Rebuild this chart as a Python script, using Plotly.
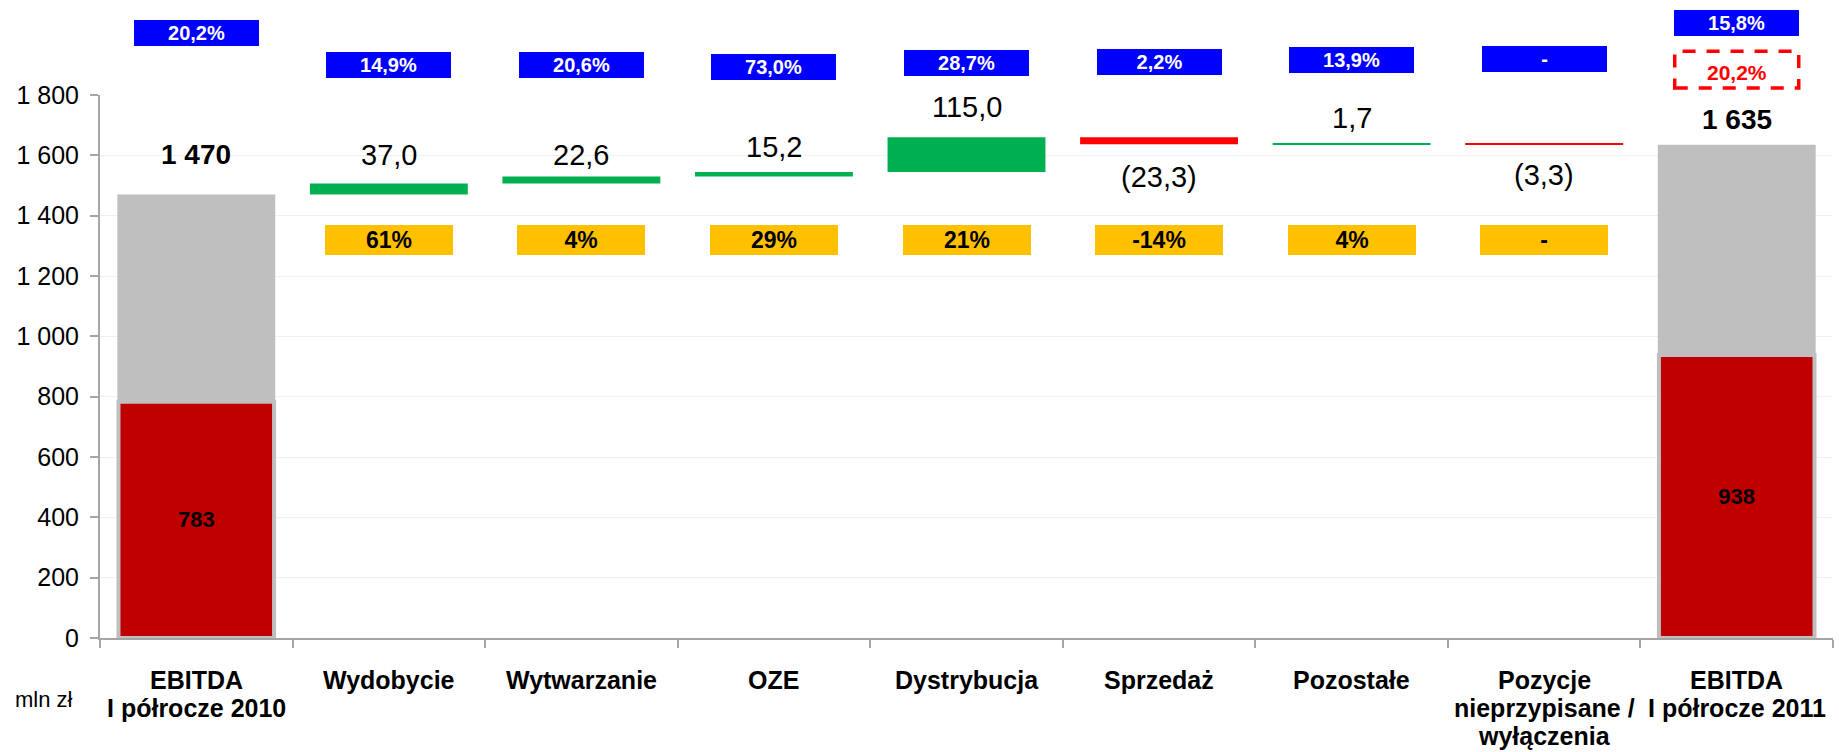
import plotly.graph_objects as go

# ---------------- data ----------------
categories = [
    "EBITDA<br>I półrocze 2010",
    "Wydobycie",
    "Wytwarzanie",
    "OZE",
    "Dystrybucja",
    "Sprzedaż",
    "Pozostałe",
    "Pozycje<br>nieprzypisane /<br>wyłączenia",
    "EBITDA<br>I półrocze 2011",
]
kinds = ["total", "delta", "delta", "delta", "delta", "delta", "delta", "delta", "total"]
values = [1470, 37.0, 22.6, 15.2, 115.0, -23.3, 1.7, -3.3, 1635]
red_part = [783, None, None, None, None, None, None, None, 938]
margin_labels = ["20,2%", "14,9%", "20,6%", "73,0%", "28,7%", "2,2%", "13,9%", "-", "15,8%"]
share_labels = [None, "61%", "4%", "29%", "21%", "-14%", "4%", "-", None]
prior_margin_label = "20,2%"
y_ticks = [0, 200, 400, 600, 800, 1000, 1200, 1400, 1600, 1800]
unit_label = "mln zł"

# ---------------- layout helpers (styling / placement) ----------------
YMAX = 1800
FONT = "Liberation Sans, Arial, sans-serif"
PLOT_H = 752 - 95 - 114
label_offsets_px = [40, 28, 22, 25, 30, -33, 26, -30, 25]
blue_levels = [2005, 1899, 1899, 1893, 1906, 1909, 1916, 1919, 2039]
red_box_level = 1884
share_level = 1319
BAR_W = 0.82
CAT_FIRST_LINE_PX = 42   # below the x axis
CAT_LINE_STEP_PX = 28

# waterfall geometry from data
bases, tops, bottoms, colors = [], [], [], []
running = 0.0
for k, v in zip(kinds, values):
    if k == "total":
        b = 0.0
        running = v
        colors.append("#BFBFBF")
    else:
        b = running
        running += v
        colors.append("#00B050" if v >= 0 else "#FF0000")
    bases.append(b)
    tops.append(max(b, b + v))
    bottoms.append(min(b, b + v))


def fmt_value(k, v):
    if k == "total":
        return f"{int(round(v)):,}".replace(",", " ")
    s = f"{abs(v):.1f}".replace(".", ",")
    return f"({s})" if v < 0 else s


fig = go.Figure()
fig.add_trace(go.Bar(
    x=categories, y=values, base=bases, width=BAR_W,
    marker=dict(color=colors, line=dict(width=0)),
    hoverinfo="skip", showlegend=False,
))
fig.add_trace(go.Bar(
    x=categories, y=red_part, width=BAR_W - 0.012,
    marker=dict(color="#C00000", line=dict(color="#BFBFBF", width=4)),
    text=[str(v) if v is not None else "" for v in red_part],
    textposition="inside", insidetextanchor="middle", textangle=0,
    textfont=dict(family=FONT, size=22, color="black", weight="bold"),
    hoverinfo="skip", showlegend=False,
))

annotations = []
# value labels
for i, (k, v) in enumerate(zip(kinds, values)):
    off = label_offsets_px[i]
    annotations.append(dict(
        x=categories[i], xref="x", yref="y",
        y=tops[i] if off > 0 else bottoms[i], yshift=off,
        text=fmt_value(k, v), showarrow=False, yanchor="middle",
        font=dict(family=FONT, size=28 if k == "total" else 29, color="black",
                  weight="bold" if k == "total" else "normal"),
    ))
# blue margin boxes
for i, t in enumerate(margin_labels):
    annotations.append(dict(
        x=categories[i], xref="x", yref="paper", y=blue_levels[i] / YMAX,
        text=t, showarrow=False, yanchor="middle", xanchor="center",
        width=125, height=26, bgcolor="#0000FF", borderpad=0, borderwidth=0,
        font=dict(family=FONT, size=20, color="white", weight="bold"),
    ))
# orange share boxes
for i, t in enumerate(share_labels):
    if t is None:
        continue
    annotations.append(dict(
        x=categories[i], xref="x", yref="y", y=share_level,
        text=t, showarrow=False, yanchor="middle", xanchor="center",
        width=128, height=30, bgcolor="#FFC000", borderpad=0, borderwidth=0,
        font=dict(family=FONT, size=23, color="black", weight="bold"),
    ))
# prior-year margin (red dashed box)
last = len(categories) - 1
annotations.append(dict(
    x=categories[last], xref="x", yref="paper", y=(red_box_level - 8) / YMAX,
    text=prior_margin_label, showarrow=False, yanchor="middle",
    font=dict(family=FONT, size=21, color="#FF0000", weight="bold"),
))
# category labels (one annotation per line for tight line spacing)
for i, cat in enumerate(categories):
    for j, line in enumerate(cat.split("<br>")):
        annotations.append(dict(
            x=categories[i], xref="x", yref="paper",
            y=-(CAT_FIRST_LINE_PX + j * CAT_LINE_STEP_PX) / PLOT_H,
            text=line, showarrow=False, yanchor="middle", xanchor="center",
            font=dict(family=FONT, size=25, color="black", weight="bold"),
        ))
# unit label
annotations.append(dict(
    x=-0.05, xref="paper", xanchor="left", y=-0.114, yref="paper", yanchor="middle",
    text=unit_label, showarrow=False,
    font=dict(family=FONT, size=22, color="black"),
))

n = len(categories)


def cat_paper(i, dx):
    return (i + 0.5 + dx) / n


shapes = [dict(
    type="rect", xref="paper", yref="paper",
    x0=cat_paper(last, -0.322), x1=cat_paper(last, 0.322),
    y0=(red_box_level - 61) / YMAX, y1=(red_box_level + 61) / YMAX,
    line=dict(color="#FF0000", width=3.5, dash="13px,11px"),
    fillcolor="rgba(0,0,0,0)",
)]

fig.update_layout(
    width=1839, height=752, autosize=False,
    margin=dict(l=100, r=6, t=95, b=114),
    paper_bgcolor="white", plot_bgcolor="white",
    barmode="overlay", bargap=0.18,
    separators=", ",
    font=dict(family=FONT, color="black"),
    annotations=annotations, shapes=shapes,
    showlegend=False,
)
fig.update_yaxes(
    range=[0, YMAX], tickvals=y_ticks, tickformat=",d", automargin=False,
    showgrid=True, gridcolor="#F0F0F0", gridwidth=1, zeroline=False,
    showline=True, linecolor="#A6A6A6", linewidth=2,
    ticks="outside", ticklen=8, tickcolor="#A6A6A6", tickwidth=2,
    tickfont=dict(family=FONT, size=25, color="black"),
    ticklabelstandoff=6,
)
fig.update_xaxes(
    type="category", showgrid=False, zeroline=False, automargin=False,
    showline=True, linecolor="#A6A6A6", linewidth=2,
    ticks="outside", tickson="boundaries", ticklen=8, tickcolor="#A6A6A6", tickwidth=2,
    showticklabels=False,
)

fig.write_html(
    "out.html",
    config={"displayModeBar": False},
    post_script="document.body.style.margin='0';document.body.style.overflow='hidden';",
)
